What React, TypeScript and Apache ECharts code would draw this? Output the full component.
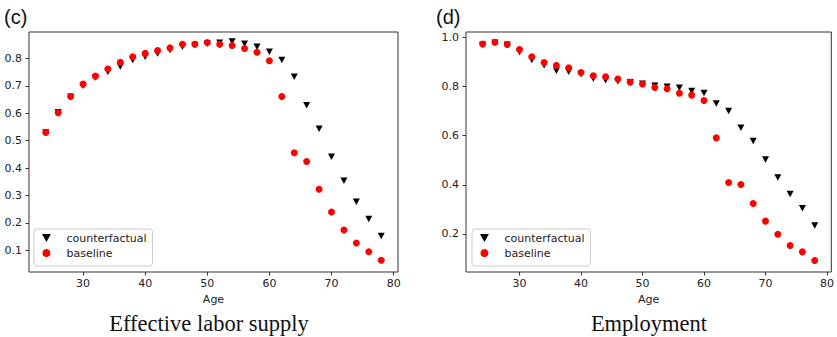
import React, { useEffect, useRef } from "react";
import * as echarts from "echarts";

const ages = [24, 26, 28, 30, 32, 34, 36, 38, 40, 42, 44, 46, 48, 50, 52, 54, 56, 58, 60, 62, 64, 66, 68, 70, 72, 74, 76, 78];

const laborCounterfactual = [0.53, 0.603, 0.66, 0.70, 0.73, 0.751, 0.77, 0.794, 0.806, 0.818, 0.83, 0.842, 0.849, 0.853, 0.857, 0.861, 0.853, 0.842, 0.824, 0.794, 0.733, 0.629, 0.543, 0.441, 0.354, 0.277, 0.214, 0.152];
const laborBaseline = [0.53, 0.602, 0.661, 0.706, 0.735, 0.761, 0.786, 0.806, 0.818, 0.828, 0.838, 0.851, 0.851, 0.858, 0.851, 0.847, 0.836, 0.822, 0.791, 0.661, 0.456, 0.424, 0.323, 0.24, 0.174, 0.127, 0.095, 0.064];

const empCounterfactual = [0.97, 0.978, 0.97, 0.941, 0.908, 0.887, 0.864, 0.86, 0.85, 0.833, 0.826, 0.822, 0.817, 0.811, 0.803, 0.799, 0.795, 0.782, 0.774, 0.731, 0.70, 0.632, 0.578, 0.503, 0.43, 0.363, 0.305, 0.234];
const empBaseline = [0.973, 0.98, 0.971, 0.951, 0.921, 0.898, 0.886, 0.876, 0.857, 0.844, 0.84, 0.831, 0.818, 0.81, 0.796, 0.791, 0.773, 0.765, 0.743, 0.591, 0.409, 0.401, 0.324, 0.252, 0.199, 0.153, 0.127, 0.092];

const ageTicks = [30, 40, 50, 60, 70, 80];
const laborTicks = [0.1, 0.2, 0.3, 0.4, 0.5, 0.6, 0.7, 0.8];
const empTicks = [0.2, 0.4, 0.6, 0.8, 1.0];

const panelLetters = ["(c)", "(d)"];
const panelCaptions = ["Effective labor supply", "Employment"];
const seriesNames = ["counterfactual", "baseline"];
const xAxisName = "Age";

const TRI = "path://M0,0L10,0L5,9Z";
const FONT = "DejaVu Sans";
const INK = "#222";
const FRAME = "#333";

export default function App() {
  const ref = useRef<HTMLDivElement>(null);

  useEffect(() => {
    if (!ref.current) return;
    const chart = echarts.init(ref.current, undefined, { renderer: "svg" });

    const grids = [
      { left: 29, top: 32, width: 369, height: 240 },
      { left: 466, top: 32, width: 367, height: 240 },
    ];
    const yRanges = [
      { min: 0.021, max: 0.896, ticks: laborTicks },
      { min: 0.045, max: 1.022, ticks: empTicks },
    ];
    const legendLefts = [34, 472];
    const captionX = [209, 649];
    const letterX = [4, 436];

    const xAxes = grids.map((_, i) => ({
      type: "value",
      gridIndex: i,
      min: 21.3,
      max: 80.7,
      name: xAxisName,
      nameLocation: "middle",
      nameGap: 21,
      nameTextStyle: { fontFamily: FONT, fontSize: 11, color: INK },
      splitLine: { show: false },
      axisLine: { show: false },
      axisTick: { show: true, inside: false, length: 3.5, customValues: ageTicks, lineStyle: { color: FRAME, width: 1 } },
      axisLabel: { show: true, margin: 6, customValues: ageTicks, fontFamily: FONT, fontSize: 11, color: INK, formatter: (v: number) => String(v) },
    }));

    const yAxes = yRanges.map((r, i) => ({
      type: "value",
      gridIndex: i,
      min: r.min,
      max: r.max,
      splitLine: { show: false },
      axisLine: { show: false },
      axisTick: { show: true, inside: false, length: 3.5, customValues: r.ticks, lineStyle: { color: FRAME, width: 1 } },
      axisLabel: { show: true, margin: 7, customValues: r.ticks, fontFamily: FONT, fontSize: 11, color: INK, formatter: (v: number) => v.toFixed(1) },
    }));

    const data = [
      [laborCounterfactual, laborBaseline],
      [empCounterfactual, empBaseline],
    ];

    const series: any[] = [];
    data.forEach((pair, i) => {
      series.push({
        type: "scatter",
        name: seriesNames[0],
        xAxisIndex: i,
        yAxisIndex: i,
        symbol: TRI,
        symbolSize: [7, 6.5],
        itemStyle: { color: "#000000", opacity: 1 },
        data: ages.map((a, k) => [a, pair[0][k]]),
        z: 2,
      });
      series.push({
        type: "scatter",
        name: seriesNames[1],
        xAxisIndex: i,
        yAxisIndex: i,
        symbol: "circle",
        symbolSize: 7,
        itemStyle: { color: "#ff0000", opacity: 1 },
        data: ages.map((a, k) => [a, pair[1][k]]),
        z: 3,
      });
    });

    const legends = legendLefts.map((l) => ({
      orient: "vertical",
      left: l,
      top: 229,
      padding: [2, 6, 6, 8],
      itemGap: 1,
      itemWidth: 30,
      itemHeight: 8,
      backgroundColor: "#fff",
      borderColor: "#ccc",
      borderWidth: 1,
      borderRadius: 3,
      selectedMode: false,
      textStyle: { fontFamily: FONT, fontSize: 11, color: INK, lineHeight: 14 },
      data: [
        { name: seriesNames[0], icon: TRI, itemStyle: { color: "#000", opacity: 1 } },
        { name: seriesNames[1], icon: "circle", itemStyle: { color: "#ff0000", opacity: 1 } },
      ],
    }));

    const graphics: any[] = [];
    panelLetters.forEach((t, i) => {
      graphics.push({
        type: "text",
        x: letterX[i],
        y: 17,
        style: { text: t, fontFamily: "Liberation Sans", fontSize: 20, fill: "#111", align: "left", verticalAlign: "middle" },
      });
    });
    panelCaptions.forEach((t, i) => {
      graphics.push({
        type: "text",
        x: captionX[i],
        y: 323,
        style: { text: t, fontFamily: "Liberation Serif", fontSize: 22.5, fill: "#111", align: "center", verticalAlign: "middle" },
      });
    });

    chart.setOption({
      animation: false,
      backgroundColor: "#fff",
      grid: grids.map((g) => ({ ...g, show: true, borderColor: FRAME, borderWidth: 1, backgroundColor: "transparent" })),
      xAxis: xAxes,
      yAxis: yAxes,
      legend: legends,
      series,
      graphic: graphics,
    });

    return () => chart.dispose();
  }, []);

  return <div ref={ref} style={{ position: "absolute", left: 0, top: 0, width: 837, height: 337 }} />;
}
